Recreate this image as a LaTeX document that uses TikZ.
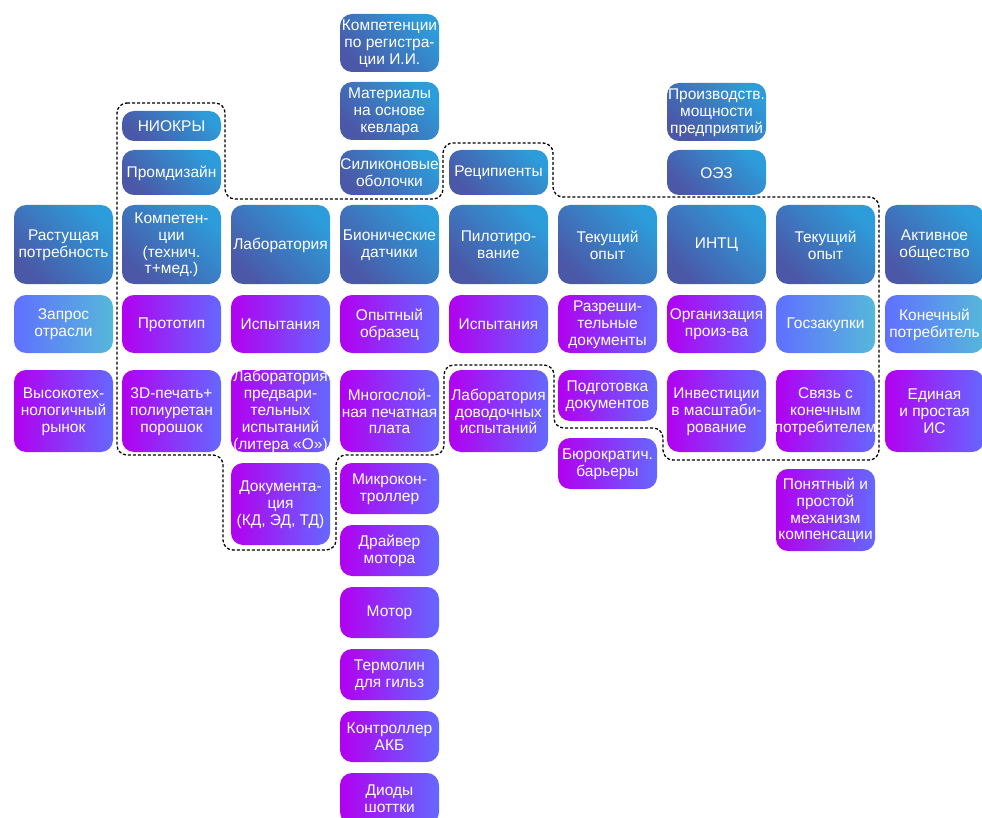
\documentclass[tikz,border=0pt]{standalone}
\usepackage{fontspec}
\setmainfont{Liberation Sans}
\definecolor{bdark}{HTML}{4B57A7}
\definecolor{blight}{HTML}{2D9CDA}
\definecolor{pleft}{HTML}{B200F0}
\definecolor{pright}{HTML}{6468FF}
\definecolor{lleft}{HTML}{6070FF}
\definecolor{lright}{HTML}{55B8DA}
\newcommand\bx[6]{%
  \node[#2, minimum height={#5-#4}] (#1) at ({#3+49.5},{(#4+#5)/2}) {};
  \node[txt] (#1t) at ([yshift=-0.5pt]#1.center) {#6};}
\begin{document}
\begin{tikzpicture}[x=1pt,y=-1pt,
  boxbase/.style={rectangle, rounded corners=12pt, minimum width=99pt, inner sep=0pt},
  blu/.style={boxbase, shading=axis, bottom color=bdark, top color=blight, shading angle=-45},
  pur/.style={boxbase, left color=pleft, right color=pright},
  lbl/.style={boxbase, left color=lleft, right color=lright},
  txt/.style={text=white, align=center, inner sep=0pt, font=\fontsize{15.5}{16.8}\selectfont},
  grp/.style={draw=black, dash pattern=on 3pt off 2pt, line width=1.3pt, rounded corners=10pt}]
\clip (0,0) rectangle (982,818);
% col1
\bx{a1}{blu}{14}{205}{284}{Растущая\\потребность}
\bx{a2}{lbl}{14}{295}{353}{Запрос\\отрасли}
\bx{a3}{pur}{14}{370}{452}{Высокотех-\\нологичный\\рынок}
% col2
\bx{b01}{blu}{122}{111}{141}{НИОКРЫ}
\bx{b02}{blu}{122}{150}{195}{Промдизайн}
\bx{b1}{blu}{122}{205}{284}{Компетен-\\ции\\(технич.\\т+мед.)}
\bx{b2}{pur}{122}{295}{353}{Прототип}
\bx{b3}{pur}{122}{370}{452}{3D-печать+\\полиуретан\\порошок}
% col3
\bx{c1}{blu}{231}{205}{284}{Лаборатория}
\bx{c2}{pur}{231}{295}{353}{Испытания}
\bx{c3}{pur}{231}{370}{452}{Лаборатория\\предвари-\\тельных\\испытаний\\(литера «О»)}
\bx{c4}{pur}{231}{463}{545}{Документа-\\ция\\(КД, ЭД, ТД)}
% col4
\bx{d01}{blu}{340}{14}{72}{Компетенции\\по регистра-\\ции И.И.}
\bx{d02}{blu}{340}{82}{140}{Материалы\\на основе\\кевлара}
\bx{d03}{blu}{340}{150}{195}{Силиконовые\\оболочки}
\bx{d1}{blu}{340}{205}{284}{Бионические\\датчики}
\bx{d2}{pur}{340}{295}{353}{Опытный\\образец}
\bx{d3}{pur}{340}{370}{452}{Многослой-\\ная печатная\\плата}
\bx{d4}{pur}{340}{463}{514}{Микрокон-\\троллер}
\bx{d5}{pur}{340}{525}{576}{Драйвер\\мотора}
\bx{d6}{pur}{340}{587}{638}{Мотор}
\bx{d7}{pur}{340}{649}{700}{Термолин\\для гильз}
\bx{d8}{pur}{340}{711}{762}{Контроллер\\АКБ}
\bx{d9}{pur}{340}{773}{824}{Диоды\\шоттки}
% col5
\bx{e0}{blu}{449}{150}{195}{Реципиенты}
\bx{e1}{blu}{449}{205}{284}{Пилотиро-\\вание}
\bx{e2}{pur}{449}{295}{353}{Испытания}
\bx{e3}{pur}{449}{370}{452}{Лаборатория\\доводочных\\испытаний}
% col6
\bx{f1}{blu}{558}{205}{284}{Текущий\\опыт}
\bx{f2}{pur}{558}{295}{353}{Разреши-\\тельные\\документы}
\bx{f3}{pur}{558}{370}{421}{Подготовка\\документов}
\bx{f4}{pur}{558}{438}{489}{Бюрократич.\\барьеры}
% col7
\bx{g01}{blu}{667}{83}{141}{Производств.\\мощности\\предприятий}
\bx{g02}{blu}{667}{150}{195}{ОЭЗ}
\bx{g1}{blu}{667}{205}{284}{ИНТЦ}
\bx{g2}{pur}{667}{295}{353}{Организация\\произ-ва}
\bx{g3}{pur}{667}{370}{452}{Инвестиции\\в масштаби-\\рование}
% col8
\bx{h1}{blu}{776}{205}{284}{Текущий\\опыт}
\bx{h2}{lbl}{776}{295}{353}{Госзакупки}
\bx{h3}{pur}{776}{370}{452}{Связь с\\конечным\\потребителем}
\bx{h4}{pur}{776}{469}{551}{Понятный и\\простой\\механизм\\компенсации}
% col9
\bx{i1}{blu}{885}{205}{284}{Активное\\общество}
\bx{i2}{lbl}{885}{295}{353}{Конечный\\потребитель}
\bx{i3}{pur}{885}{370}{452}{Единая\\и простая\\ИС}
% group outline
\draw[grp] (117,103) -- (225,103) -- (225,199) -- (443,199) -- (443,143) -- (553,143) -- (553,197)
  -- (879,197) -- (879,460) -- (663,460) -- (663,428) -- (554,428) -- (554,365) -- (444,365)
  -- (444,455) -- (336,455) -- (336,550) -- (223,550) -- (223,455) -- (117,455) -- cycle;
\end{tikzpicture}
\end{document}
